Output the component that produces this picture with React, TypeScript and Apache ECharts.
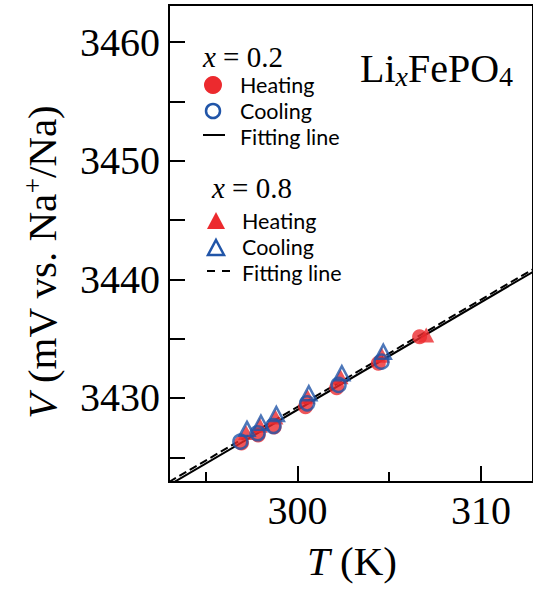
import React, { useEffect, useRef } from "react";
import * as echarts from "echarts";

// x = 0.2, heating (filled circles): [T (K), V (mV)]
const heat02: number[][] = [
  [296.95, 3426.21],
  [297.86, 3426.88],
  [298.73, 3427.56],
  [300.44, 3429.27],
  [302.14, 3430.87],
  [304.41, 3432.92],
  [306.66, 3435.17],
];
// x = 0.2, cooling (open circles)
const cool02: number[][] = [
  [296.89, 3426.32],
  [297.83, 3427.03],
  [298.69, 3427.64],
  [300.53, 3429.55],
  [302.24, 3431.1],
  [304.58, 3433.06],
];
// x = 0.8, heating (filled triangles)
const heat08: number[][] = [
  [297.2, 3427.1],
  [297.95, 3427.7],
  [298.8, 3428.4],
  [300.55, 3430.1],
  [302.35, 3431.8],
  [304.6, 3433.6],
  [307.02, 3435.31],
];
// x = 0.8, cooling (open triangles)
const cool08: number[][] = [
  [297.25, 3427.4],
  [298.01, 3427.92],
  [298.85, 3428.65],
  [300.62, 3430.4],
  [302.42, 3432.08],
  [304.68, 3433.9],
];
// linear fits, given by their end points
const fit02: number[][] = [
  [293, 3422.66],
  [313, 3440.78],
];
const fit08: number[][] = [
  [293, 3422.92],
  [313, 3441.0],
];

const xMajorTicks = [300, 310];
const xMinorTicks = [295, 305];
const yTicks = [3425, 3430, 3435, 3440, 3445, 3450, 3455, 3460];
const yLabels = [3430, 3440, 3450, 3460];

const RED = "#ec2a2e";
const BLUE = "#2155a8";
const SERIF = "'Liberation Serif', 'Times New Roman', serif";
const SANS = "Lato, 'Open Sans', sans-serif";

export default function App() {
  const ref = useRef<HTMLDivElement>(null);

  useEffect(() => {
    if (!ref.current) return;
    const chart = echarts.init(ref.current, undefined, { renderer: "svg" });

    const xBase = {
      type: "value",
      gridIndex: 0,
      min: 293,
      max: 312.84,
      position: "bottom",
      splitLine: { show: false },
    };

    const legendText = (x: number, y: number, text: string) => ({
      type: "text",
      x,
      y,
      style: {
        text,
        fontFamily: SANS,
        fontSize: 21.5,
        lineHeight: 21,
        fill: "#000",
        verticalAlign: "middle",
        align: "left",
      },
    });

    const serifText = (x: number, y: number, text: string, size: number, rich: any, extra: any = {}) => ({
      type: "text",
      x,
      y,
      ...extra,
      style: {
        text,
        fontFamily: SERIF,
        fontSize: size,
        fill: "#000",
        align: extra.align || "left",
        verticalAlign: "middle",
        rich,
      },
    });

    const option: any = {
      animation: false,
      backgroundColor: "#fff",
      grid: {
        left: 169,
        top: 5,
        width: 367,
        height: 477,
        show: true,
        borderColor: "#000",
        borderWidth: 2,
        backgroundColor: "transparent",
      },
      xAxis: [
        {
          ...xBase,
          axisLine: { show: true, onZero: false, lineStyle: { color: "#000", width: 2 } },
          axisTick: {
            show: true,
            inside: true,
            length: 16,
            customValues: xMajorTicks,
            lineStyle: { color: "#000", width: 2 },
          },
          axisLabel: {
            show: true,
            customValues: xMajorTicks,
            formatter: (v: number) => String(v),
            fontSize: 40,
            fontFamily: SERIF,
            color: "#000",
            margin: 8,
          },
        },
        {
          ...xBase,
          axisLine: { show: false },
          axisTick: {
            show: true,
            inside: true,
            length: 10,
            customValues: xMinorTicks,
            lineStyle: { color: "#000", width: 2 },
          },
          axisLabel: { show: false },
        },
      ],
      yAxis: {
        type: "value",
        min: 3422.92,
        max: 3463.12,
        splitLine: { show: false },
        axisLine: { show: true, onZero: false, lineStyle: { color: "#000", width: 2 } },
        axisTick: {
          show: true,
          inside: true,
          length: 16,
          customValues: yTicks,
          lineStyle: { color: "#000", width: 2 },
        },
        axisLabel: {
          show: true,
          customValues: yLabels,
          formatter: (v: number) => String(v),
          fontSize: 40,
          fontFamily: SERIF,
          color: "#000",
          margin: 9,
        },
      },
      series: [
        {
          type: "line",
          data: fit02,
          symbol: "none",
          lineStyle: { color: "#000", width: 2 },
          z: 1,
        },
        {
          type: "line",
          data: fit08,
          symbol: "none",
          lineStyle: { color: "#000", width: 2, type: [8, 4] },
          z: 1,
        },
        {
          type: "scatter",
          data: heat02,
          symbol: "circle",
          symbolSize: 15,
          itemStyle: { color: RED },
          z: 2,
        },
        {
          type: "scatter",
          data: heat08,
          symbol: "triangle",
          symbolSize: [16, 15],
          itemStyle: { color: RED },
          z: 3,
        },
        {
          type: "scatter",
          data: cool08,
          symbol: "triangle",
          symbolSize: [15, 14],
          itemStyle: { color: "transparent", borderColor: BLUE, borderWidth: 2.5 },
          z: 4,
        },
        {
          type: "scatter",
          data: cool02,
          symbol: "circle",
          symbolSize: 14,
          itemStyle: { color: "transparent", borderColor: BLUE, borderWidth: 2.5 },
          z: 5,
        },
      ],
      graphic: [
        // axis titles
        serifText(352, 561, "{i|T}{n| (K)}", 41, {
          i: { fontStyle: "italic", fontSize: 41, fontFamily: SERIF },
          n: { fontSize: 41, fontFamily: SERIF },
        }, { align: "center" }),
        serifText(42, 262, "{i|V}{n| (mV vs. Na}{sup|+}{n|/Na)}", 41, {
          i: { fontStyle: "italic", fontSize: 41, fontFamily: SERIF, lineHeight: 46 },
          n: { fontSize: 41, fontFamily: SERIF, lineHeight: 46 },
          sup: { fontSize: 27, fontFamily: SERIF, verticalAlign: "top", lineHeight: 46 },
        }, { align: "center", rotation: Math.PI / 2 }),
        // compound label
        serifText(360, 68, "{n|Li}{s|x}{n|FePO}{t|4}", 40, {
          n: { fontSize: 40, fontFamily: SERIF, lineHeight: 44, verticalAlign: "middle" },
          s: { fontSize: 28, fontFamily: SERIF, fontStyle: "italic", lineHeight: 44, verticalAlign: "bottom" },
          t: { fontSize: 28, fontFamily: SERIF, lineHeight: 44, verticalAlign: "bottom" },
        }),
        // x = 0.2 legend block
        serifText(203, 57, "{i|x}{n| = 0.2}", 29, {
          i: { fontStyle: "italic", fontSize: 29, fontFamily: SERIF },
          n: { fontSize: 29, fontFamily: SERIF },
        }),
        { type: "circle", shape: { cx: 213, cy: 85, r: 9 }, style: { fill: RED } },
        legendText(240, 85, "Heating"),
        {
          type: "circle",
          shape: { cx: 213, cy: 111, r: 7 },
          style: { fill: "none", stroke: BLUE, lineWidth: 2.5 },
        },
        legendText(240, 111, "Cooling"),
        {
          type: "line",
          shape: { x1: 203, y1: 135, x2: 225, y2: 135 },
          style: { stroke: "#000", lineWidth: 2 },
        },
        legendText(240, 137, "Fitting line"),
        // x = 0.8 legend block
        serifText(212, 188, "{i|x}{n| = 0.8}", 29, {
          i: { fontStyle: "italic", fontSize: 29, fontFamily: SERIF },
          n: { fontSize: 29, fontFamily: SERIF },
        }),
        {
          type: "polygon",
          shape: { points: [[216, 212], [225, 229], [207, 229]] },
          style: { fill: RED },
        },
        legendText(242, 221, "Heating"),
        {
          type: "polygon",
          shape: { points: [[216, 240], [224, 255], [208, 255]] },
          style: { fill: "none", stroke: BLUE, lineWidth: 2.5 },
        },
        legendText(242, 247, "Cooling"),
        {
          type: "line",
          shape: { x1: 207, y1: 271, x2: 230, y2: 271 },
          style: { stroke: "#000", lineWidth: 2, lineDash: [8, 7] },
        },
        legendText(242, 273, "Fitting line"),
      ],
    };

    chart.setOption(option);
    return () => chart.dispose();
  }, []);

  return (
    <div
      ref={ref}
      style={{ position: "absolute", left: 0, top: 0, width: 533, height: 590, background: "#fff" }}
    />
  );
}
